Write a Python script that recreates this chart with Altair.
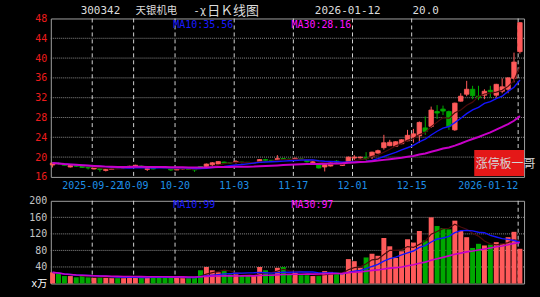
import altair as alt
import pandas as pd

# ---- data (80 trading days, 2025-09-11 .. 2026-01-12) ----
opens = [18.4, 18.75, 18.6, 18.0, 18.3, 18.2, 17.9, 17.6, 17.65, 17.3,
         17.5, 17.9, 17.75, 18.0, 18.2, 18.2, 17.5, 17.7, 18.0, 18.0,
         17.65, 17.4, 17.6, 17.6, 17.55, 18.1, 18.1, 18.45, 18.6, 19.0,
         18.9, 18.9, 19.0, 18.95, 18.85, 18.95, 19.5, 19.35, 19.5, 19.7,
         19.6, 19.6, 19.65, 19.3, 18.9, 18.5, 18.0, 18.2, 19.2, 18.3,
         18.9, 19.8, 19.85, 19.9, 20.1, 20.8, 21.9, 22.3, 22.2, 22.7,
         23.3, 24.0, 24.3, 25.9, 26.2, 29.2, 29.7, 29.2, 25.5, 31.3,
         32.7, 33.7, 32.3, 32.5, 33.5, 32.5, 33.3, 33.7, 35.9, 41.3]
highs = [18.95, 18.95, 18.7, 18.4, 18.4, 18.3, 17.95, 17.9, 17.7, 17.6,
         17.7, 18.0, 17.95, 18.25, 18.45, 18.3, 17.75, 17.8, 18.1, 18.1,
         17.7, 17.65, 17.9, 17.65, 17.6, 18.2, 18.7, 19.0, 19.2, 19.1,
         19.0, 19.4, 19.05, 19.0, 19.0, 19.6, 19.65, 19.4, 20.4, 19.8,
         19.7, 19.9, 19.7, 19.4, 19.2, 18.6, 18.6, 18.9, 19.4, 18.6,
         20.1, 20.4, 20.1, 21.0, 21.1, 21.5, 24.5, 23.5, 23.2, 23.6,
         25.5, 25.7, 27.2, 28.2, 30.2, 30.5, 30.4, 29.4, 31.0, 32.9,
         35.4, 34.4, 34.4, 33.7, 34.4, 34.8, 35.9, 36.1, 41.1, 47.2]
lows = [17.9, 18.5, 18.3, 17.9, 18.0, 17.8, 17.5, 17.5, 17.05, 17.1,
        17.4, 17.7, 17.6, 17.9, 18.0, 17.9, 17.2, 17.5, 17.8, 17.8,
        17.2, 17.35, 17.5, 17.4, 17.0, 17.9, 18.0, 18.1, 18.5, 18.7,
        18.6, 18.7, 18.7, 18.7, 18.75, 18.9, 19.3, 19.15, 19.1, 19.4,
        19.4, 19.5, 19.4, 18.9, 18.8, 17.7, 17.1, 18.1, 18.8, 18.2,
        18.8, 19.4, 19.7, 19.3, 19.6, 20.7, 21.5, 22.2, 22.1, 22.6,
        23.2, 22.9, 22.9, 24.5, 25.9, 27.7, 28.5, 25.5, 25.3, 31.2,
        32.3, 31.7, 31.5, 31.7, 32.0, 32.0, 32.9, 32.9, 35.1, 40.9]
closes = [18.8, 18.65, 18.35, 18.3, 18.15, 17.9, 17.8, 17.8, 17.5, 17.5,
          17.6, 17.8, 17.85, 18.15, 18.35, 18.0, 17.7, 17.6, 17.9, 17.85,
          17.4, 17.55, 17.8, 17.5, 17.4, 18.0, 18.6, 18.85, 19.1, 18.8,
          18.8, 19.1, 18.9, 18.85, 18.9, 19.5, 19.35, 19.25, 19.7, 19.55,
          19.5, 19.75, 19.6, 19.05, 19.05, 17.8, 18.5, 18.8, 19.0, 18.5,
          20.0, 20.0, 20.0, 19.7, 21.0, 21.3, 22.9, 23.0, 23.1, 23.5,
          24.4, 24.7, 27.0, 25.2, 29.5, 28.9, 29.3, 26.2, 30.9, 32.3,
          33.7, 32.4, 32.0, 33.3, 33.2, 34.7, 34.2, 36.0, 39.2, 47.16]
volumes = [27, 24, 18, 18, 15, 18, 15, 14, 15, 14,
           14, 14, 14, 18, 14, 14, 14, 17, 14, 14,
           14, 15, 14, 14, 14, 32, 40, 32, 27, 30,
           22, 22, 19, 19, 18, 40, 32, 22, 38, 40,
           22, 26, 20, 20, 18, 18, 30, 28, 26, 24,
           59, 54, 38, 63, 72, 67, 110, 90, 62, 78,
           107, 99, 127, 104, 160, 139, 134, 131, 152, 127,
           112, 86, 96, 92, 94, 100, 96, 112, 125, 84]

tick_idx = [7, 14, 21, 31, 41, 51, 61, 79]
tick_labels = ["2025-09-22", "10-09", "10-20", "11-03", "11-17", "12-01", "12-15", "2026-01-12"]
price_ticks = [16, 20, 24, 28, 32, 36, 40, 44, 48]
price_grid = [20, 24, 28, 32, 36, 40, 44]
vol_ticks = [0, 40, 80, 120, 160, 200]
vol_grid = [40, 80, 120, 160]

RED = "#ff5a5a"
GREEN = "#00a800"
BLUE = "#1414ff"
MAGENTA = "#c800c8"
DARK = "#4a0c0c"
MONO = "DejaVu Sans Mono, Noto Sans CJK SC"
CJK = "Noto Sans CJK SC"

df = pd.DataFrame({"i": list(range(len(closes))), "open": opens, "high": highs,
                   "low": lows, "close": closes, "vol": volumes})
df["dir"] = ["up" if c >= o else "down" for o, c in zip(opens, closes)]
ticks_df = pd.DataFrame({"idx": tick_idx, "label": tick_labels})
n_last = len(closes) - 1

xscale = alt.Scale(domain=[-0.3, 79.7], nice=False, zero=False)
pscale = alt.Scale(domain=[16, 48], nice=False, zero=False)
vscale = alt.Scale(domain=[0, 200], nice=False, zero=False)
color = alt.Color("dir:N", scale=alt.Scale(domain=["up", "down"], range=[RED, GREEN]), legend=None)
stroke = alt.Stroke("dir:N", scale=alt.Scale(domain=["up", "down"], range=[RED, GREEN]), legend=None)
X = alt.X("i:Q", scale=xscale, axis=None)

PAX = alt.Axis(values=price_ticks, title=None, grid=False, ticks=False, domain=False,
               labelColor="#ee1c1c", labelFont=MONO, labelFontSize=10, labelPadding=4)
VAX = alt.Axis(values=vol_ticks, title=None, grid=False, ticks=False, domain=False,
               labelExpr="datum.value == 0 ? 'x万' : datum.label",
               labelColor=alt.condition("datum.value == 0", alt.value("#ffffff"), alt.value("#c4c4c4")),
               labelFont=MONO, labelFontSize=10, labelPadding=4)

base = alt.Chart(df)


def ma_line(field, n, col, width, yscale, ax):
    return base.transform_window(
        m=f"mean({field})", frame=[-(n - 1), 0], sort=[alt.SortField("i", order="ascending")]
    ).mark_line(color=col, strokeWidth=width).encode(x=X, y=alt.Y("m:Q", scale=yscale, axis=ax))


def vlines():
    return alt.Chart(ticks_df).transform_calculate(xp="datum.idx - 0.3").mark_rule(
        color="#d2d2d2", strokeDash=[4, 3], strokeWidth=1
    ).encode(x=alt.X("xp:Q", scale=xscale, axis=None))


def label(txt, x, y, col, font=MONO, size=10, align="left"):
    return alt.Chart(pd.DataFrame({"t": [txt]})).mark_text(
        color=col, font=font, fontSize=size, align=align, baseline="middle"
    ).encode(x=alt.value(x), y=alt.value(y), text="t:N")


def anchor(x, y):
    # invisible 1px box that pins the page's corner for autosize "pad"
    return alt.Chart(pd.DataFrame({"a": [0]})).mark_rect(opacity=0).encode(
        x=alt.value(x), x2=alt.value(x + 1), y=alt.value(y), y2=alt.value(y + 1))


# ---------------- price panel ----------------
p_grid = alt.Chart(pd.DataFrame({"v": price_grid})).mark_rule(
    color="#8c8c8c", strokeDash=[1, 1], strokeWidth=1
).encode(y=alt.Y("v:Q", scale=pscale, axis=PAX))

wicks = base.mark_rule(strokeWidth=1).encode(
    x=X, y=alt.Y("low:Q", scale=pscale, axis=PAX), y2="high:Q", color=color)
bodies = base.transform_calculate(xl="datum.i - 0.38", xr="datum.i + 0.38").mark_rect(
    strokeWidth=0.8).encode(
    x=alt.X("xl:Q", scale=xscale, axis=None), x2="xr:Q",
    y=alt.Y("open:Q", scale=pscale, axis=PAX), y2="close:Q", fill=color, stroke=stroke)

date_mid = alt.Chart(ticks_df).transform_filter(f"datum.idx < {n_last}").transform_calculate(
    xp="datum.idx - 0.3").mark_text(
    color="#1e8fe6", font=MONO, fontSize=10, align="center", baseline="middle"
).encode(x=alt.X("xp:Q", scale=xscale, axis=None), y=alt.value(167.7), text="label:N")
date_end = alt.Chart(ticks_df).transform_filter(f"datum.idx >= {n_last}").transform_calculate(
    xp="datum.idx - 0.3").mark_text(
    color="#1e8fe6", font=MONO, fontSize=10, align="right", baseline="middle"
).encode(x=alt.X("xp:Q", scale=xscale, axis=None), y=alt.value(167.7), text="label:N")

badge = alt.Chart(pd.DataFrame({"t": ["涨停板一哥"]})).mark_rect(color="#e41818").encode(
    x=alt.value(425), x2=alt.value(475), y=alt.value(132), y2=alt.value(158))

price = alt.layer(
    anchor(-50, -17),
    p_grid, vlines(), wicks, bodies,
    ma_line("close", 5, DARK, 1.2, pscale, PAX),
    ma_line("close", 10, BLUE, 1.4, pscale, PAX),
    ma_line("close", 30, MAGENTA, 2, pscale, PAX),
    date_mid, date_end,
    label("MA10:35.56", 123, 6.5, "#1a1aff"),
    label("MA30:28.16", 241.5, 6.5, "#ff10ff"),
    label("300342", 30, -7.5, "#dcdcdc", size=11),
    label("天银机电", 85, -7.5, "#dcdcdc", font=CJK, size=10.5),
    label("-χ", 143, -7.5, "#dcdcdc", size=11),
    label("日Ｋ线图", 157, -7.5, "#dcdcdc", font=CJK, size=13),
    label("2026-01-12", 265, -7.5, "#dcdcdc", size=11),
    label("20.0", 363, -7.5, "#dcdcdc", size=11),
    badge,
    label("涨停板一哥", 426.5, 146.5, "#d4d4d4", font=CJK, size=12),
).properties(width=475, height=159)

# ---------------- volume panel ----------------
v_grid = alt.Chart(pd.DataFrame({"v": vol_grid})).mark_rule(
    color="#8c8c8c", strokeDash=[1, 1], strokeWidth=1
).encode(y=alt.Y("v:Q", scale=vscale, axis=VAX))

vbars = base.transform_calculate(
    xl="datum.i - 0.42", xr="datum.i + 0.42", z="0").mark_rect().encode(
    x=alt.X("xl:Q", scale=xscale, axis=None), x2="xr:Q",
    y=alt.Y("vol:Q", scale=vscale, axis=VAX), y2="z:Q", color=color)

volume = alt.layer(
    v_grid, vlines(), vbars,
    ma_line("vol", 5, DARK, 1.2, vscale, VAX),
    ma_line("vol", 10, BLUE, 1.4, vscale, VAX),
    ma_line("vol", 30, MAGENTA, 1.6, vscale, VAX),
    label("MA10:99", 123, 4, "#1a1aff"),
    label("MA30:97", 241.5, 4, "#ff10ff"),
    anchor(489, 96),
).properties(width=475, height=83)

chart = alt.vconcat(price, volume, spacing=24, bounds="flush").properties(
    background="black",
    padding=0,
    autosize=alt.AutoSizeParams(type="pad"),
).configure_view(stroke="#a0a0a0", strokeWidth=1)

chart.save("out.html", embed_options={"renderer": "svg", "actions": False})
